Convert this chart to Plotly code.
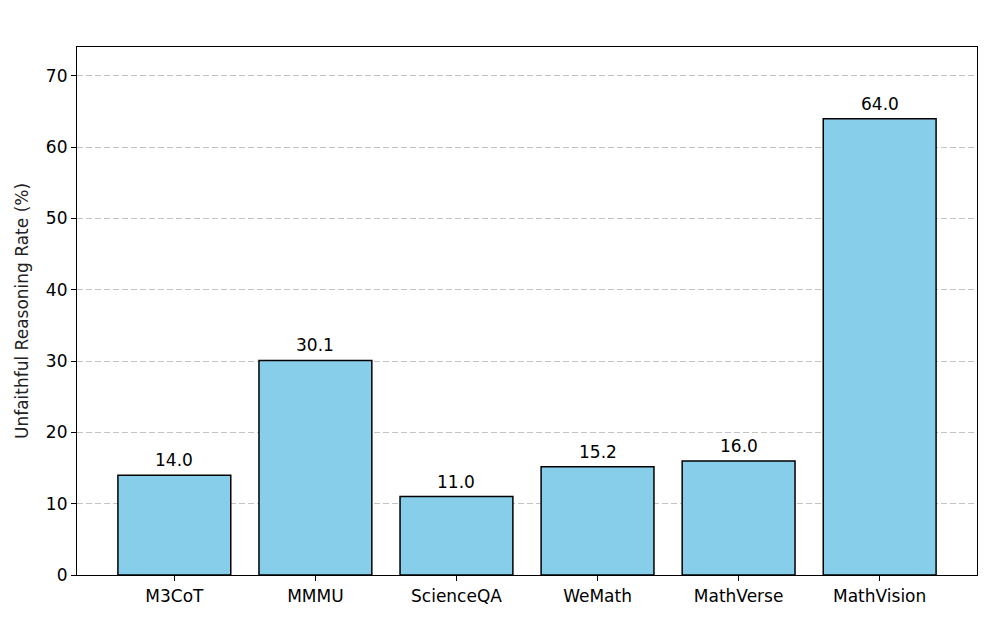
import plotly.graph_objects as go

categories = ["M3CoT", "MMMU", "ScienceQA", "WeMath", "MathVerse", "MathVision"]
values = [14.0, 30.1, 11.0, 15.2, 16.0, 64.0]
y_ticks = [0, 10, 20, 30, 40, 50, 60, 70]

FONT = "DejaVu Sans"

fig = go.Figure()
fig.add_trace(go.Bar(
    x=list(range(len(categories))),
    y=values,
    width=0.8,
    marker=dict(color="#87CEEB", line=dict(color="#000000", width=1.5)),
    hoverinfo="skip",
))

for i, v in enumerate(values):
    fig.add_annotation(
        x=i, y=v, text=f"{v:.1f}", showarrow=False,
        yanchor="bottom", yshift=3,
        font=dict(family=FONT, size=17, color="#000000"),
    )

fig.update_layout(
    width=997, height=625,
    margin=dict(l=69, r=28, t=39, b=58),
    paper_bgcolor="white", plot_bgcolor="white",
    showlegend=False,
    font=dict(family=FONT, size=17, color="#000000"),
    xaxis=dict(
        range=[-0.69, 5.69],
        tickmode="array",
        tickvals=list(range(len(categories))),
        ticktext=categories,
        ticks="outside", ticklen=5, tickwidth=1.2, tickcolor="#000",
        showline=True, linecolor="#000", linewidth=1.2, mirror=True,
        showgrid=False, zeroline=False,
        tickfont=dict(family=FONT, size=17),
    ),
    yaxis=dict(
        range=[0, 74.06],
        tickmode="array",
        tickvals=y_ticks,
        ticks="outside", ticklen=5, tickwidth=1.2, tickcolor="#000",
        showline=True, linecolor="#000", linewidth=1.2, mirror=True,
        showgrid=True, gridcolor="rgba(176,176,176,0.75)", griddash="6px,3px", gridwidth=1.2,
        zeroline=False,
        layer="above traces",
        tickfont=dict(family=FONT, size=17),
        title=dict(text="Unfaithful Reasoning Rate (%)", font=dict(family=FONT, size=17, color="#222"), standoff=12),
    ),
)

fig.write_html("out.html")
